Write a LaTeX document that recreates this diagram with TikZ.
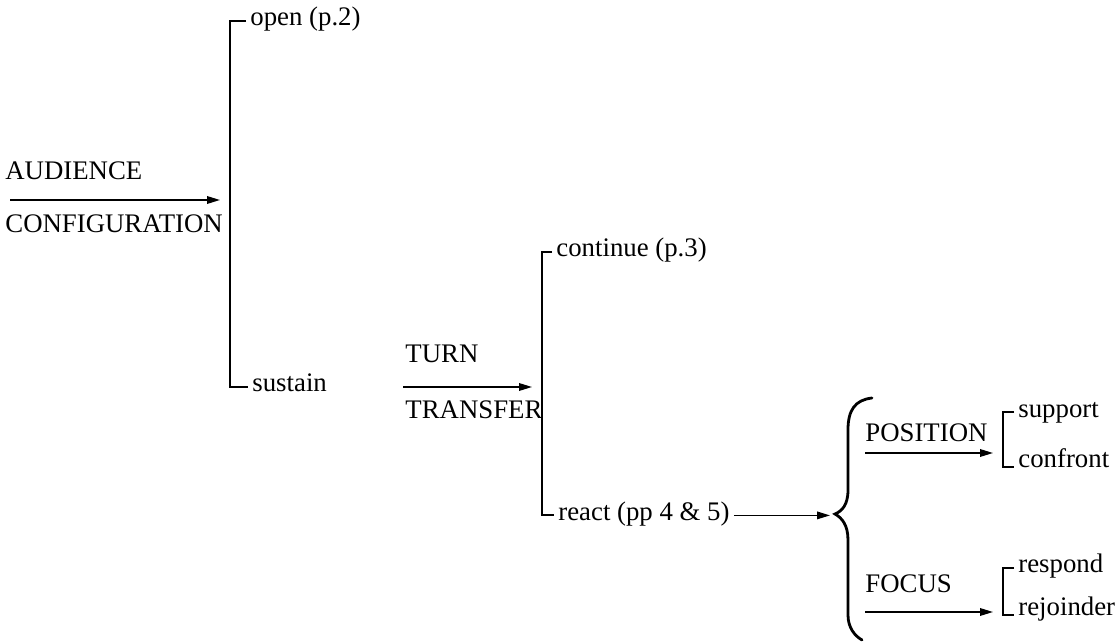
\documentclass[tikz,border=0pt]{standalone}
\usepackage{fontspec}
\setmainfont{Liberation Serif}
\usetikzlibrary{arrows.meta}
\tikzset{
  word/.style   = {font=\fontsize{13.4}{15}\selectfont, inner xsep=2pt, inner ysep=0pt,
                   text height=0.68em, text depth=0.22em, anchor=base west},
  brack/.style  = {line width=1pt},
  flow/.style   = {-{Triangle[length=6.5pt,width=3.8pt]}, line width=0.75pt},
  brace/.style  = {line width=1.4pt, line cap=round},
}
\begin{document}
\begin{tikzpicture}[x=0.5pt,y=-0.5pt]
  \useasboundingbox (0,0) rectangle (1116,642);
  % audience configuration
  \node[word] (aud) at (1,180) {AUDIENCE};
  \node[word] (cfg) at (1,233) {CONFIGURATION};
  \node[word] (open) at (246,26) {open (p.2)};
  \node[word] (sustain) at (248,392) {sustain};
  \coordinate (acIn) at (10,200);
  \coordinate (acBar) at (230,200);
  \draw[flow,shorten >=5pt] (acIn) -- (acBar);
  \draw[brack] (open.west) -| (acBar) |- (sustain.west);
  % turn transfer
  \node[word] (turn) at (401,363) {TURN};
  \node[word] (transfer) at (401,418) {TRANSFER};
  \node[word] (continue) at (552,257) {continue (p.3)};
  \node[word] (react) at (554,520) {react (pp 4 \& 5)};
  \coordinate (ttIn) at (403,387);
  \coordinate (ttBar) at (542,387);
  \draw[flow,shorten >=5pt] (ttIn) -- (ttBar);
  \draw[brack] (continue.west) -| (ttBar) |- (react.west);
  % brace
  \coordinate (braceTip) at (835,514);
  \draw[flow,shorten >=2.5pt] (react.east) -- (react.east -| braceTip);
  \draw[brace] (872,398) .. controls (855,400) and (848,410) .. (848,430)
    -- (848,490) .. controls (848,505) and (842,511) .. (braceTip)
    .. controls (842,518) and (848,525) .. (848,540)
    -- (848,615) .. controls (848,628) and (855,636) .. (862,640);
  % position / focus
  \node[word] (position) at (861,442) {POSITION};
  \node[word] (focus) at (861,592) {FOCUS};
  \node[word] (support) at (1014,417) {support};
  \node[word] (confront) at (1014,467) {confront};
  \node[word] (respond) at (1014,573) {respond};
  \node[word] (rejoinder) at (1014,615) {rejoinder};
  \coordinate (posIn) at (865,453);
  \coordinate (posBar) at (1003,453);
  \coordinate (focIn) at (865,612);
  \coordinate (focBar) at (1003,612);
  \draw[flow,shorten >=5pt] (posIn) -- (posBar);
  \draw[flow,shorten >=5pt] (focIn) -- (focBar);
  \draw[brack] (support.west) -| (posBar) |- (confront.base west);
  \draw[brack] (respond.west) -| (focBar) |- (rejoinder.base west);
\end{tikzpicture}
\end{document}
